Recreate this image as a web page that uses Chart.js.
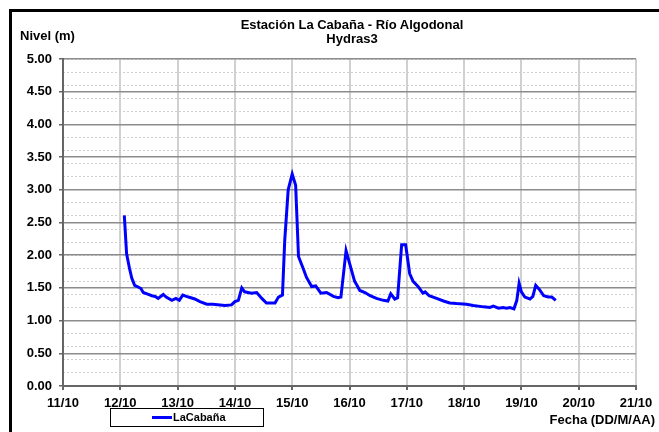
<!DOCTYPE html>
<html>
<head>
<meta charset="utf-8">
<script src="https://cdn.jsdelivr.net/npm/chart.js@4"></script>
<style>
  body { margin: 0; width: 659px; height: 432px; overflow: hidden; background: #fff; position: relative; font-family: 'Liberation Sans', Arial, sans-serif; font-weight: bold; color: #000; }
  #marco { position: absolute; left: 9px; top: 9px; width: 700px; height: 500px; border-top: 3px solid #000; border-left: 3px solid #000; }
  #grafico { position: absolute; left: 0; top: 0; }
  .txt { position: absolute; font-size: 13px; line-height: 14px; white-space: nowrap; }
  #titulo { left: 52px; width: 600px; top: 18px; text-align: center; }
  #ejeY { left: 20px; top: 29px; }
  #ejeX { right: 4px; top: 413px; }
  #leyenda { position: absolute; left: 110px; top: 408px; width: 152px; height: 17px; border: 1px solid #000; }
  #leyenda .linea { position: absolute; left: 41px; top: 7px; width: 20px; height: 3px; background: #0000ff; }
  #leyenda .nombre { position: absolute; left: 62px; top: 2px; font-size: 11px; line-height: 13px; }
</style>
</head>
<body>
<div id="marco"></div>
<canvas id="grafico" width="659" height="432"></canvas>
<div class="txt" id="titulo">Estación La Cabaña - Río Algodonal<br>Hydras3</div>
<div class="txt" id="ejeY">Nivel (m)</div>
<div class="txt" id="ejeX">Fecha (DD/M/AA)</div>
<div id="leyenda"><span class="linea"></span><span class="nombre">LaCabaña</span></div>

<script>
// --- DATOS ---
// tiempo en días de octubre (12.5 = 12/10 a mediodía), nivel en metros
const tiempo = [
  12.07, 12.11, 12.16, 12.20, 12.25, 12.32, 12.36, 12.40, 12.49, 12.55,
  12.61, 12.66, 12.75, 12.80, 12.90, 12.97, 13.03, 13.09, 13.19, 13.30,
  13.39, 13.51, 13.62, 13.74, 13.83, 13.94, 14.00, 14.06, 14.12, 14.17,
  14.29, 14.38, 14.47, 14.55, 14.64, 14.70, 14.76, 14.83, 14.87, 14.93,
  15.00, 15.06, 15.11, 15.19, 15.25, 15.34, 15.41, 15.50, 15.60, 15.72,
  15.80, 15.85, 15.94, 16.00, 16.09, 16.13, 16.18, 16.27, 16.36, 16.47,
  16.59, 16.67, 16.72, 16.79, 16.84, 16.91, 16.98, 17.05, 17.11, 17.20,
  17.28, 17.32, 17.39, 17.52, 17.64, 17.75, 17.87, 18.04, 18.16, 18.34,
  18.45, 18.51, 18.60, 18.68, 18.74, 18.80, 18.87, 18.92, 18.96, 19.00,
  19.06, 19.15, 19.20, 19.25, 19.31, 19.39, 19.47, 19.53, 19.60
];
const nivel = [
  2.61, 2.02, 1.80, 1.65, 1.54, 1.51, 1.49, 1.43, 1.40, 1.38,
  1.37, 1.34, 1.40, 1.36, 1.31, 1.34, 1.31, 1.39, 1.36, 1.33,
  1.29, 1.25, 1.25, 1.24, 1.23, 1.24, 1.29, 1.31, 1.50, 1.44,
  1.42, 1.43, 1.34, 1.27, 1.27, 1.27, 1.36, 1.39, 2.23, 3.00,
  3.24, 3.07, 1.98, 1.80, 1.66, 1.52, 1.53, 1.42, 1.43, 1.37,
  1.35, 1.36, 2.07, 1.88, 1.60, 1.54, 1.46, 1.43, 1.38, 1.34,
  1.31, 1.30, 1.41, 1.33, 1.35, 2.16, 2.16, 1.72, 1.60, 1.52,
  1.42, 1.44, 1.38, 1.34, 1.30, 1.27, 1.26, 1.25, 1.23, 1.21,
  1.20, 1.22, 1.19, 1.20, 1.19, 1.20, 1.18, 1.31, 1.57, 1.44,
  1.36, 1.33, 1.37, 1.54, 1.48, 1.38, 1.36, 1.36, 1.31
];
const diaInicio = 11;
const fechas = ['11/10', '12/10', '13/10', '14/10', '15/10', '16/10', '17/10', '18/10', '19/10', '20/10', '21/10'];
const nivelMax = 5;

const fuente = { family: "'Liberation Sans', Arial, sans-serif", size: 13, weight: 'bold' };

new Chart(document.getElementById('grafico'), {
  type: 'line',
  data: {
    datasets: [{
      label: 'LaCabaña',
      data: tiempo.map((t, i) => ({ x: t, y: nivel[i] })),
      borderColor: '#0000ff',
      borderWidth: 3,
      pointRadius: 0,
      tension: 0,
      fill: false
    }]
  },
  options: {
    responsive: false,
    animation: false,
    layout: { padding: { top: 59, right: 23, left: 0, bottom: 0 } },
    plugins: { legend: { display: false }, title: { display: false }, tooltip: { enabled: false } },
    scales: {
      x: {
        type: 'linear',
        min: diaInicio,
        max: diaInicio + fechas.length - 1,
        afterFit: s => { s.height = 46; },
        ticks: {
          stepSize: 1, autoSkip: false, maxRotation: 0, padding: 6,
          color: '#000', font: fuente,
          callback: (v) => fechas[Math.round(v - diaInicio)]
        },
        grid: { color: '#d0d0d0', lineWidth: 2, tickLength: 4, tickColor: '#666', tickWidth: 2 },
        border: { color: '#666', width: 2 }
      },
      y: {
        min: 0,
        max: nivelMax,
        afterFit: s => { s.width = 63; },
        ticks: {
          stepSize: 0.5, padding: 7, color: '#000', font: fuente,
          callback: v => v.toFixed(2)
        },
        grid: { color: '#8c8c8c', lineWidth: 1.5, tickLength: 4, tickColor: '#666', tickWidth: 1.5 },
        border: { color: '#666', width: 2 }
      },
      // líneas secundarias punteadas cada 0.2 m, dibujadas debajo de las principales
      yMenor: {
        position: 'left',
        min: 0,
        max: nivelMax,
        afterFit: s => { s.width = 0; },
        ticks: { stepSize: 0.2, display: false },
        grid: { color: '#cfcfcf', lineWidth: 1, drawTicks: false, z: -2 },
        border: { display: false, dash: [2, 2] }
      }
    }
  }
});
</script>
</body>
</html>
